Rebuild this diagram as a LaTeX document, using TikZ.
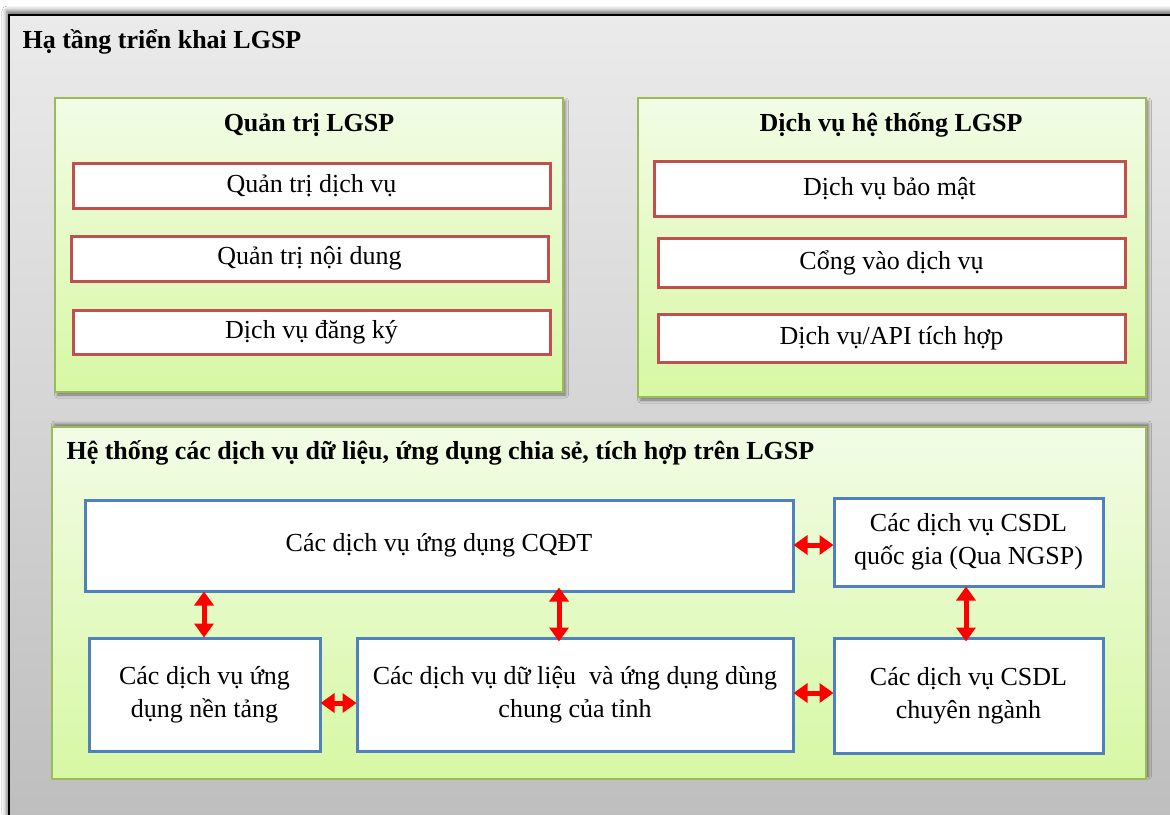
\documentclass[tikz,border=0pt]{standalone}
\usepackage{fontspec}
\setmainfont{Liberation Serif}
\usetikzlibrary{arrows.meta,shadows.blur}

\definecolor{boxgreen}{HTML}{9BBB59}
\definecolor{greentop}{HTML}{F2FCE6}
\definecolor{greenbot}{HTML}{D7F8A4}
\definecolor{itemred}{HTML}{C0504D}
\definecolor{itemblue}{HTML}{4F81BD}
\definecolor{linkred}{HTML}{FF0000}
\definecolor{graytop}{HTML}{EBEBEB}
\definecolor{graybot}{HTML}{BDBDBD}

\tikzset{
  groupbox/.style={draw=boxgreen, line width=1.2pt, top color=greentop, bottom color=greenbot},
  lowshadow/.style={blur shadow={shadow xshift=2.5pt, shadow yshift=-3pt, shadow blur radius=3pt, shadow opacity=45}},
  highshadow/.style={blur shadow={shadow xshift=2.5pt, shadow yshift=3pt, shadow blur radius=3pt, shadow opacity=45}},
  redbox/.style={draw=itemred, line width=3pt, fill=white},
  bluebox/.style={draw=itemblue, line width=3pt, fill=white},
  grouptitle/.style={font=\fontsize{26}{30}\selectfont\bfseries},
  itemtext/.style={font=\fontsize{26}{33}\selectfont, align=center},
  link/.style={draw=linkred, line width=5pt,
    {Triangle[width=19pt,length=14pt]}-{Triangle[width=19pt,length=14pt]}, shorten <=-1pt, shorten >=-1pt},
}

\begin{document}
\begin{tikzpicture}[x=1pt, y=-1pt]
\useasboundingbox (0,0) rectangle (1170,814);
\clip (0,0) rectangle (1170,814);
\fill[white] (0,0) rectangle (1170,814);

% outer frame with its shadow
\path[blur shadow={shadow xshift=-2pt, shadow yshift=4pt, shadow blur radius=5pt, shadow opacity=60}]
  (9,15) rectangle (1200,840);
\draw[line width=1.2pt, top color=graytop, bottom color=graybot] (9,15) rectangle (1200,840);
\node[grouptitle, anchor=west] (frametitle) at (19,42) {Hạ tầng triển khai LGSP};

% --- Quản trị LGSP ---
\path[groupbox, lowshadow] (55,98) rectangle (563,392);
\node[grouptitle] (qtitle) at (309,125) {Quản trị LGSP};
\node[redbox, minimum width=477pt, minimum height=45pt, itemtext] (q1) at (311.5,185.5) {Quản trị dịch vụ};
\node[redbox, minimum width=477pt, minimum height=45pt, itemtext] (q2) at (309.5,258.5) {Quản trị nội dung};
\node[redbox, minimum width=477pt, minimum height=44pt, itemtext] (q3) at (311.5,332) {Dịch vụ đăng ký};

% --- Dịch vụ hệ thống LGSP ---
\path[groupbox, lowshadow] (638,98) rectangle (1146,397);
\node[grouptitle] (dtitle) at (891,125) {Dịch vụ hệ thống LGSP};
\node[redbox, minimum width=471pt, minimum height=55pt, itemtext] (d1) at (889.5,188.5) {Dịch vụ bảo mật};
\node[redbox, minimum width=467pt, minimum height=49pt, itemtext] (d2) at (891.5,262.5) {Cổng vào dịch vụ};
\node[redbox, minimum width=467pt, minimum height=48pt, itemtext] (d3) at (891.5,338) {Dịch vụ/API tích hợp};

% --- Hệ thống các dịch vụ dữ liệu ---
\path[groupbox, highshadow] (52,427) rectangle (1146,779);
\node[grouptitle, anchor=west] (htitle) at (63,453) {Hệ thống các dịch vụ dữ liệu, ứng dụng chia sẻ, tích hợp trên LGSP};

\node[bluebox, minimum width=708pt, minimum height=91pt, itemtext] (cqdt) at (439,545.5) {Các dịch vụ ứng dụng CQĐT};
\node[bluebox, minimum width=269pt, minimum height=88pt, itemtext] (qg) at (968.5,542) {Các dịch vụ CSDL\\quốc gia (Qua NGSP)};
\node[bluebox, minimum width=231pt, minimum height=113pt, itemtext] (nt) at (204.5,694.5) {Các dịch vụ ứng\\dụng nền tảng};
\node[bluebox, minimum width=436pt, minimum height=113pt, itemtext] (dc) at (575,694.5) {Các dịch vụ dữ liệu~ và ứng dụng dùng\\chung của tỉnh};
\node[bluebox, minimum width=269pt, minimum height=115pt, itemtext] (cn) at (968.5,695.5) {Các dịch vụ CSDL\\chuyên ngành};

% links between the service groups
\draw[link] (nt.north -| 204,0) -- (cqdt.south -| 204,0);
\draw[link] ([yshift=-4pt]dc.north -| 559,0) -- ([yshift=4pt]cqdt.south -| 559,0);
\draw[link] (cqdt.east |- 0,545) -- (qg.west |- 0,545);
\draw[link] ([yshift=-4pt]cn.north -| 966,0) -- (qg.south -| 966,0);
\draw[link] (nt.east |- 0,703) -- (dc.west |- 0,703);
\draw[link] (dc.east |- 0,693) -- (cn.west |- 0,693);
\end{tikzpicture}
\end{document}
